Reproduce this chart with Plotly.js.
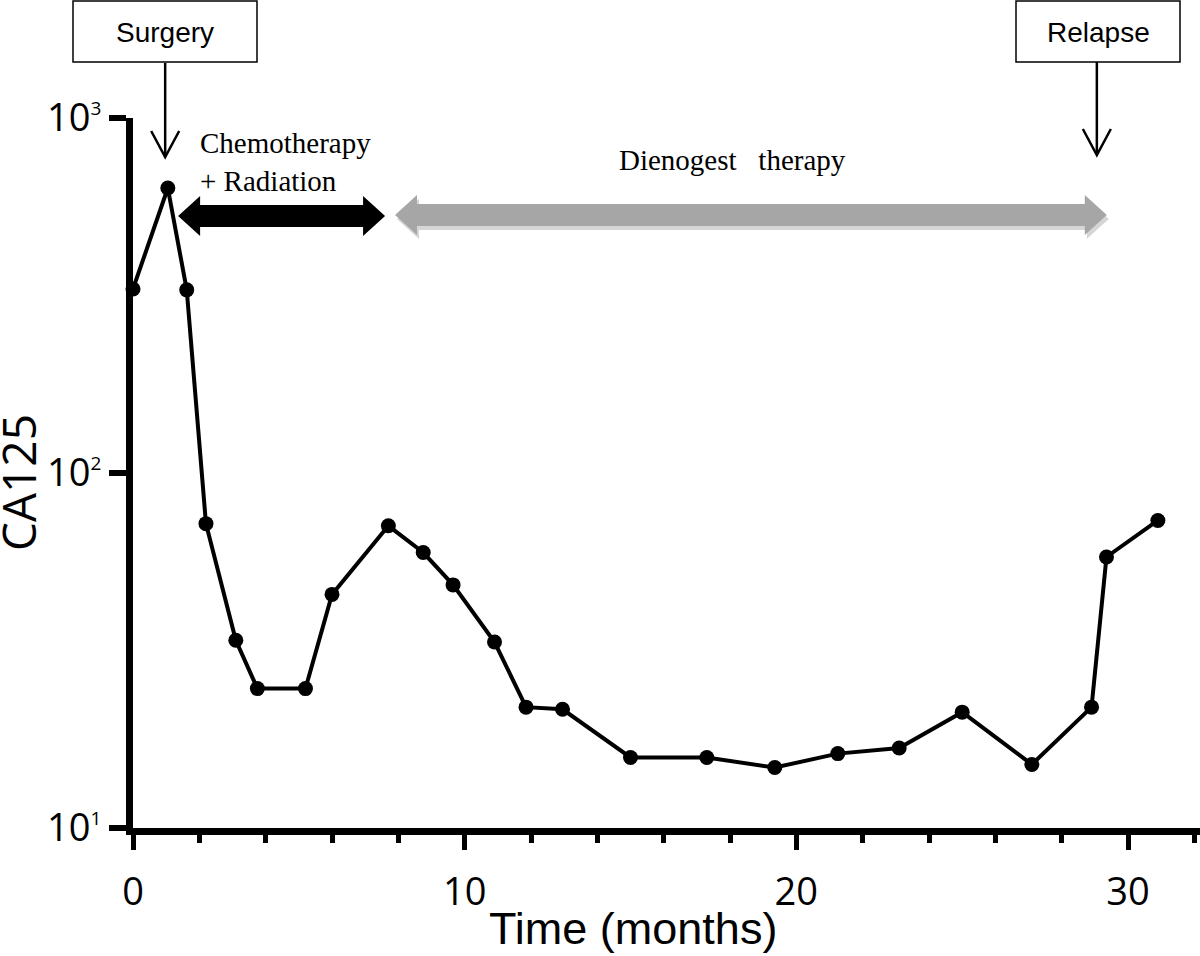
<!DOCTYPE html>
<html>
<head>
<meta charset="utf-8">
<script src="https://cdn.plot.ly/plotly-3.0.1.min.js"></script>
<style>html,body{margin:0;padding:0;background:#fff;}</style>
</head>
<body>
<div id="chart" style="width:1200px;height:956px;"></div>
<script>
// ---- data ----
const months = [0, 1.05, 1.62, 2.2, 3.1, 3.75, 5.2, 6.0, 7.7, 8.75, 9.65, 10.9, 11.85, 12.95, 15.0, 17.3, 19.35, 21.25, 23.1, 25.0, 27.1, 28.9, 29.35, 30.9];
const ca125  = [330, 635, 328, 72, 33.8, 24.7, 24.7, 45.5, 71, 59.7, 48.4, 33.4, 21.9, 21.6, 15.8, 15.8, 14.8, 16.2, 16.8, 21.2, 15.1, 21.9, 58, 73.5];
const xTickVals = [0, 10, 20, 30];
const xTickText = ['0', '10', '20', '30'];
const yTickVals = [10, 100, 1000];
const yTickText = ['10<sup><span style="font-size:19px">1</span></sup>', '10<sup><span style="font-size:19px">2</span></sup>', '10<sup><span style="font-size:19px">3</span></sup>'];
const eventLabels = ['Surgery', 'Relapse'];
const eventMonths = [0.97, 29.06];
const therapyLabels = ['Chemotherapy<br>+ Radiation', 'Dienogest\u00a0\u00a0\u00a0therapy'];
const therapyStart = [1.36, 7.9];
const therapyEnd = [7.6, 29.36];
const xAxisTitle = 'Time (months)';
const yAxisTitle = 'CA125';

// ---- geometry helpers (layout is fixed size) ----
const W = 1200, H = 956, ML = 133, MR = 0, MT = 118, MB = 128;
const PW = W - ML - MR, PH = H - MT - MB;
const XMAX = 32.17;
const X = px => (px - ML) / PW;          // pixel -> paper x
const Y = py => (H - MB - py) / PH;      // pixel -> paper y
const MX = m => m / XMAX;                // month -> paper x

function dblArrow(x0, x1, yc, sh, hh, hl) {
  return `M ${x0} ${yc} L ${x0+hl} ${yc+hh} L ${x0+hl} ${yc+sh} L ${x1-hl} ${yc+sh} L ${x1-hl} ${yc+hh} L ${x1} ${yc} L ${x1-hl} ${yc-hh} L ${x1-hl} ${yc-sh} L ${x0+hl} ${yc-sh} L ${x0+hl} ${yc-hh} Z`;
}

const shapes = [];
const annotations = [];

// event boxes + down arrows
const boxPx = [[73, 257], [1016, 1180]];
const arrowTopPx = [63, 62];
const arrowTipPx = [157, 155];
eventLabels.forEach((lab, i) => {
  const xm = MX(eventMonths[i]);
  const hw = 14 / PW;
  shapes.push({type: 'rect', xref: 'paper', yref: 'paper',
    x0: X(boxPx[i][0]), x1: X(boxPx[i][1]), y0: Y(62), y1: Y(1),
    line: {color: '#000', width: 1.5}, fillcolor: 'rgba(0,0,0,0)'});
  shapes.push({type: 'line', xref: 'paper', yref: 'paper',
    x0: xm, x1: xm, y0: Y(arrowTopPx[i]), y1: Y(arrowTipPx[i] - 1),
    line: {color: '#000', width: 2.5}});
  shapes.push({type: 'path', xref: 'paper', yref: 'paper',
    path: `M ${xm - hw} ${Y(arrowTipPx[i] - 26)} L ${xm} ${Y(arrowTipPx[i])} L ${xm + hw} ${Y(arrowTipPx[i] - 26)}`,
    line: {color: '#000', width: 2.5}});
  annotations.push({xref: 'paper', yref: 'paper',
    x: X((boxPx[i][0] + boxPx[i][1]) / 2), y: Y(33), text: lab, showarrow: false,
    xanchor: 'center', yanchor: 'middle',
    font: {family: 'Liberation Sans, Arial, sans-serif', size: 28, color: '#000'}});
});

// therapy double arrows
const sh = 11 / PH, hh = 20 / PH, hl = 22 / PW;
shapes.push({type: 'path', xref: 'paper', yref: 'paper',
  path: dblArrow(MX(therapyStart[1]) + 2 / PW, MX(therapyEnd[1]) + 2 / PW, Y(219), sh, hh, hl),
  fillcolor: '#d6d6d6', line: {width: 0}});
shapes.push({type: 'path', xref: 'paper', yref: 'paper',
  path: dblArrow(MX(therapyStart[1]), MX(therapyEnd[1]), Y(215), sh, hh, hl),
  fillcolor: '#a6a6a6', line: {width: 0}});
shapes.push({type: 'path', xref: 'paper', yref: 'paper',
  path: dblArrow(MX(therapyStart[0]), MX(therapyEnd[0]), Y(216), sh, hh, hl),
  fillcolor: '#000', line: {width: 0}});

annotations.push({xref: 'paper', yref: 'paper', x: X(198), y: Y(162),
  text: therapyLabels[0], showarrow: false, xanchor: 'left', yanchor: 'middle', align: 'left',
  font: {family: 'Liberation Serif, Times New Roman, serif', size: 29, color: '#000'}});
annotations.push({xref: 'paper', yref: 'paper', x: X(732), y: Y(160),
  text: therapyLabels[1], showarrow: false, xanchor: 'center', yanchor: 'middle',
  font: {family: 'Liberation Serif, Times New Roman, serif', size: 29, color: '#000'}});

// axis titles as annotations (off-centre in the reference)
annotations.push({xref: 'paper', yref: 'paper', x: X(633), y: Y(928),
  text: xAxisTitle, showarrow: false, xanchor: 'center', yanchor: 'middle',
  font: {family: 'Liberation Sans, Arial, sans-serif', size: 45, color: '#000'}});
annotations.push({xref: 'paper', yref: 'paper', x: X(18), y: Y(483),
  text: yAxisTitle, showarrow: false, textangle: -90, xanchor: 'center', yanchor: 'middle',
  font: {family: 'Open Sans, sans-serif', size: 46, color: '#000'}});

const trace = {
  x: months, y: ca125, type: 'scatter', mode: 'lines+markers',
  line: {color: '#000', width: 4},
  marker: {color: '#000', size: 15, symbol: 'circle'},
  cliponaxis: false, hoverinfo: 'x+y'
};

const tickFont = {family: 'Open Sans, sans-serif', size: 38, color: '#000'};

const layout = {
  width: W, height: H,
  margin: {l: ML, r: MR, t: MT, b: MB, pad: 0},
  paper_bgcolor: '#fff', plot_bgcolor: '#fff',
  showlegend: false,
  xaxis: {
    range: [0, XMAX], showgrid: false, zeroline: false,
    showline: true, linecolor: '#000', linewidth: 7,
    ticks: 'outside', ticklen: 15, tickwidth: 5, tickcolor: '#000',
    tickvals: xTickVals, ticktext: xTickText, tickfont: tickFont,
    ticklabelstandoff: 9,
    minor: {dtick: 2, tick0: 0, ticks: 'outside', ticklen: 8, tickwidth: 5, tickcolor: '#000', showgrid: false}
  },
  yaxis: {
    type: 'log', range: [1, 3], showgrid: false, zeroline: false,
    showline: true, linecolor: '#000', linewidth: 7,
    ticks: 'outside', ticklen: 17, tickwidth: 6, tickcolor: '#000',
    tickvals: yTickVals, ticktext: yTickText, tickfont: tickFont,
    ticklabelstandoff: 0
  },
  shapes: shapes,
  annotations: annotations
};

Plotly.newPlot('chart', [trace], layout, {displayModeBar: false, staticPlot: true});
</script>
</body>
</html>
